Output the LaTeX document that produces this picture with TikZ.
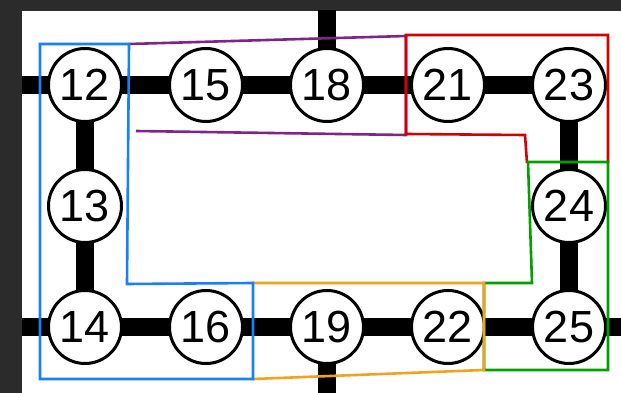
\documentclass[tikz,border=0pt]{standalone}
\usepackage{fontspec}
\setmainfont{Liberation Sans}
\usetikzlibrary{backgrounds}
\definecolor{bgdark}{RGB}{43,43,43}
\definecolor{grpblue}{RGB}{22,130,250}
\definecolor{grppurple}{RGB}{130,34,140}
\definecolor{grpred}{RGB}{215,0,0}
\definecolor{grpgreen}{RGB}{0,160,0}
\definecolor{grporange}{RGB}{245,160,30}
\begin{document}
\begin{tikzpicture}[x=1pt,y=-1pt,
  vert/.style={circle,draw=black,line width=3pt,fill=white,minimum size=73pt,inner sep=0pt,
    font=\fontsize{45}{45}\selectfont},
  edge/.style={line width=18pt,black},
  grp/.style={line width=2.6pt,line join=miter}]
\useasboundingbox (0,0) rectangle (621,393);
% nodes
\node[vert] (n12) at (85,85) {12};
\node[vert] (n15) at (206,85) {15};
\node[vert] (n18) at (327,85) {18};
\node[vert] (n21) at (448,85) {21};
\node[vert] (n23) at (569,85) {23};
\node[vert] (n13) at (85,206) {13};
\node[vert] (n24) at (569,206) {24};
\node[vert] (n14) at (85,327) {14};
\node[vert] (n16) at (206,327) {16};
\node[vert] (n19) at (327,327) {19};
\node[vert] (n22) at (448,327) {22};
\node[vert] (n25) at (569,327) {25};
\coordinate (topL) at (0,85);
\coordinate (topU) at (327,0);
\coordinate (botL) at (0,327);
\coordinate (botR) at (621,327);
\coordinate (botD) at (327,393);
\begin{scope}[on background layer]
  \fill[bgdark] (0,0) rectangle (621,393);
  \fill[white] (22,11) rectangle (621,393);
  \begin{scope}
    \clip (22,11) rectangle (621,393);
    \draw[edge] (topL) -- (n12.center) -- (n15.center) -- (n18.center) -- (n21.center) -- (n23.center);
    \draw[edge] (topU) -- (n18.center);
    \draw[edge] (n12.center) -- (n13.center) -- (n14.center);
    \draw[edge] (n23.center) -- (n24.center) -- (n25.center);
    \draw[edge] (botL) -- (n14.center) -- (n16.center) -- (n19.center) -- (n22.center) -- (n25.center) -- (botR);
    \draw[edge] (n19.center) -- (botD);
  \end{scope}
\end{scope}
% groups
\draw[grp,grppurple] (136,131) -- (406,135) -- (406,36) -- (129,44);
\draw[grp,grpred] (527,163) -- (525,135) -- (406,134) -- (406,35) -- (608,35) -- (608,163);
\draw[grp,grpgreen] (528,162) -- (608,162) -- (608,370) -- (484,370) -- (484,283) -- (532,283) -- cycle;
\draw[grp,grporange] (253,283) -- (484,283) -- (484,370) -- (253,379);
\draw[grp,grpblue] (40,44) -- (129,44) -- (127,284) -- (253,283) -- (253,379) -- (40,379) -- cycle;
\end{tikzpicture}
\end{document}
